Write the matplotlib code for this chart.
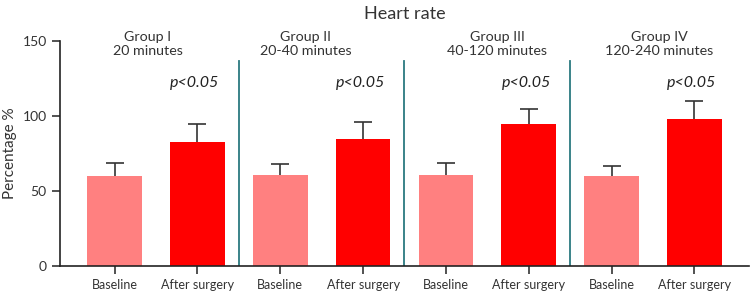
import numpy as np
import matplotlib
matplotlib.use('Agg')
from matplotlib import pyplot as plt

plt.rcParams['font.family'] = ['Lato', 'DejaVu Sans']

groups = ['Group I\n20 minutes', 'Group II\n20-40 minutes',
          'Group III\n40-120 minutes', 'Group IV\n120-240 minutes']
tick_labels = ['Baseline', 'After surgery'] * 4
baseline = [60, 61, 61, 60]
baseline_err = [9, 7, 8, 7]
after = [83, 85, 95, 98]
after_err = [12, 11, 10, 12]
p_text = ['p<0.05'] * 4

fig = plt.figure(figsize=(7.53, 2.97), dpi=100)
ax = fig.add_axes([60 / 753, 1 - 266 / 297, 689 / 753, 225 / 297])

x = np.arange(8)
xb = x[0::2]
xa = x[1::2]
ax.bar(xb, baseline, width=0.66, color='#ff8080', zorder=2)
ax.bar(xa, after, width=0.66, color='#ff0000', zorder=2)
ekw = dict(fmt='none', ecolor='#333333', elinewidth=1.2, capsize=6.5,
           capthick=1.2, zorder=1)
for xs, vals, errs in [(xb, baseline, baseline_err), (xa, after, after_err)]:
    eb = ax.errorbar(xs, vals, yerr=[np.zeros(4), errs], **ekw)
    # keep only the upper caps
    caps = sorted(eb[1], key=lambda c: np.mean(c.get_ydata()))
    caps[0].set_visible(False)

for d in [1.5, 3.5, 5.5]:
    ax.plot([d, d], [0, 137], color='#2b7a80', lw=1.3, zorder=1)

label_x = [0.4, 2.31, 4.62, 6.58]
for lx, g in zip(label_x, groups):
    ax.text(lx, 148, g, ha='center', va='center', fontsize=10.3,
            color='#333333', linespacing=1.2, clip_on=False)
for px, t in zip(xa, p_text):
    ax.text(px - 0.03, 122, t, ha='center', va='center', fontsize=11.5,
            style='italic', color='#222222')

ax.set_title('Heart rate', fontsize=13, color='#333333', pad=16)
ax.set_xlim(-0.66, 7.66)
ax.set_ylim(0, 150)
ax.set_yticks([0, 50, 100, 150])
ax.set_xticks(x)
ax.set_xticklabels(tick_labels)
ax.set_ylabel('Percentage %', fontsize=11, color='#333333')
ax.tick_params(axis='both', labelsize=9, colors='#333333', length=6, width=1.2)
ax.tick_params(axis='y', labelsize=10)
ax.spines['top'].set_visible(False)
ax.spines['right'].set_visible(False)
for s in ['left', 'bottom']:
    ax.spines[s].set_linewidth(1.2)
    ax.spines[s].set_color('#222222')

plt.savefig('out.png', dpi=100)
